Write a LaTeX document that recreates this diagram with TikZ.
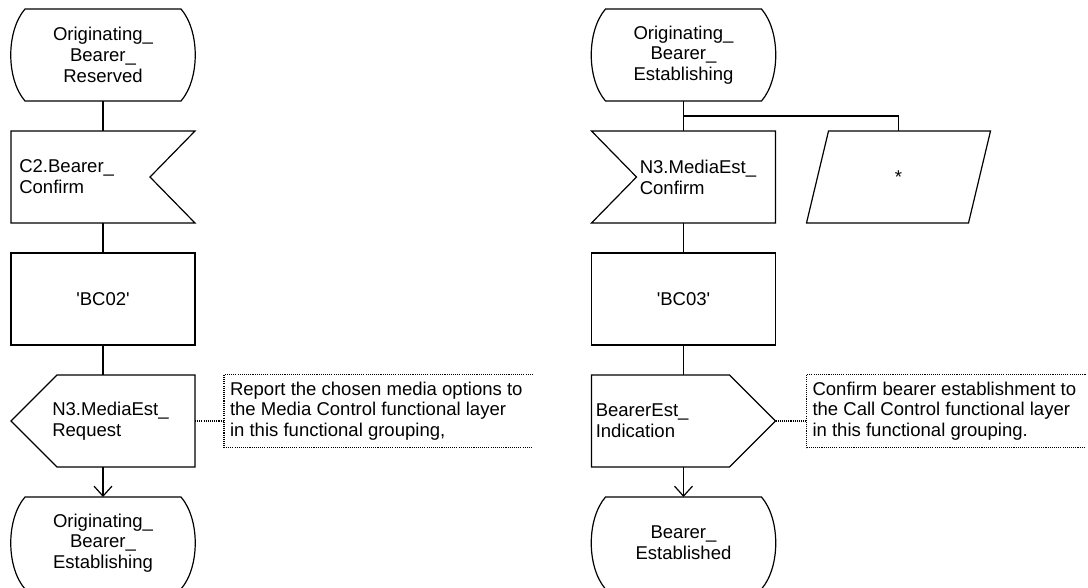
\documentclass[tikz,border=0pt]{standalone}
\usepackage{fontspec}
\setmainfont{Liberation Sans}
\usepackage{tikz}
\usetikzlibrary{arrows.meta,positioning,calc}
\definecolor{ink}{HTML}{000000}
\newcommand{\chartfont}{\fontsize{13.9}{15.6}\selectfont}
% outlines drawn round a named sdlbox node
\newcommand{\stateline}[1]{\draw[sdlline]
  ($(#1.north west)+(14,0)$) -- ($(#1.north east)+(-14,0)$)
  .. controls ($(#1.north east)+(5,22)$) and ($(#1.south east)+(5,-22)$) .. ($(#1.south east)+(-14,0)$)
  -- ($(#1.south west)+(14,0)$)
  .. controls ($(#1.south west)+(-5,-22)$) and ($(#1.north west)+(-5,22)$) .. cycle;}
\newcommand{\inrline}[1]{\draw[sdlline] (#1.north west) -- (#1.north east)
  -- ($(#1.east)+(-45,0)$) -- (#1.south east) -- (#1.south west) -- cycle;}
\newcommand{\inlline}[1]{\draw[sdlline] (#1.north west) -- (#1.north east)
  -- (#1.south east) -- (#1.south west) -- ($(#1.west)+(45,0)$) -- cycle;}
\newcommand{\outlline}[1]{\draw[sdlline] ($(#1.north west)+(46,0)$) -- (#1.north east)
  -- (#1.south east) -- ($(#1.south west)+(46,0)$) -- (#1.west) -- cycle;}
\newcommand{\outrline}[1]{\draw[sdlline] (#1.north west) -- ($(#1.north east)+(-46,0)$)
  -- (#1.east) -- ($(#1.south east)+(-46,0)$) -- (#1.south west) -- cycle;}
\newcommand{\saveline}[1]{\draw[sdlline] ($(#1.north west)+(22,0)$) -- (#1.north east)
  -- ($(#1.south east)+(-22,0)$) -- (#1.south west) -- cycle;}
\newcommand{\noteline}[2]{\draw[note] ($(#1.north west)+(#2,0)$) -- (#1.north west)
  -- (#1.south west) -- ($(#1.south west)+(#2,0)$);}

\begin{document}
\begin{tikzpicture}[
  x=0.75pt, y=-0.75pt,
  every node/.style={font=\chartfont, text=ink},
  node distance=22.5pt,
  sdlbox/.style={rectangle, minimum width=138pt, minimum height=69pt, inner sep=0pt, outer sep=0pt, align=center},
  sdlline/.style={draw=ink, line width=0.9pt},
  sdltask/.style={sdlbox, draw=ink, line width=0.9pt},
  flow/.style={draw=ink, line width=0.9pt},
  into/.style={flow, -{Straight Barb[length=7.5pt,width=13.5pt]}},
  note/.style={draw=ink, line width=0.8pt, dash pattern=on 0.8pt off 0.8pt},
  txt/.style={inner sep=0pt, align=left},
  sdlnote/.style={align=left, inner xsep=4.5pt, inner ysep=0pt, outer sep=0pt, minimum height=54.75pt}
]
\useasboundingbox (0,0) rectangle (1088,587);

% originating side, bearer reserved
\node[sdlbox] (orres) at (103,55) {Originating\_\\Bearer\_\\Reserved};
\node[sdlbox, below=of orres] (bconf) {};
\node[txt, right=6pt of bconf.west] (bconft) {C2.Bearer\_\\Confirm};
\node[sdltask, below=of bconf] (bc02) {\textquotesingle BC02\textquotesingle};
\node[sdlbox, below=of bc02] (mreq) {};
\node[txt, right=30.75pt of mreq.west] (mreqt) {N3.MediaEst\_\\Request};
\node[sdlbox, below=of mreq] (orest) {Originating\_\\Bearer\_\\Establishing};
\node[sdlnote, right=21.75pt of mreq, yshift=7.5pt] (mnote)
  {Report the chosen media options to\\the Media Control functional layer\\in this functional grouping,};
\stateline{orres}
\inrline{bconf}
\outlline{mreq}
\stateline{orest}
\noteline{mnote}{309}

\draw[flow] (orres) -- (bconf);
\draw[flow] (bconf) -- (bc02);
\draw[flow] (bc02) -- (mreq);
\draw[into] (mreq) -- (orest);
\draw[note] (mreq.east) -- (mnote.west |- mreq.east);

% originating side, bearer establishing
\node[sdlbox] (orest2) at (683.5,55) {Originating\_\\Bearer\_\\Establishing};
\node[sdlbox, below=of orest2] (mconf) {};
\node[txt, right=36pt of mconf.west] (mconft) {N3.MediaEst\_\\Confirm};
\node[sdlbox, right=23.25pt of mconf] (keep) {*};
\node[sdltask, below=of mconf] (bc03) {\textquotesingle BC03\textquotesingle};
\node[sdlbox, below=of bc03] (bind) {};
\node[txt, right=3pt of bind.west] (bindt) {BearerEst\_\\Indication};
\node[sdlbox, below=of bind] (best) {Bearer\_\\Established};
\node[sdlnote, right=23.25pt of bind, yshift=7.5pt] (bnote)
  {Confirm bearer establishment to\\the Call Control functional layer\\in this functional grouping.};
\stateline{orest2}
\inlline{mconf}
\saveline{keep}
\outrline{bind}
\stateline{best}
\noteline{bnote}{279}

\coordinate (fork) at ($(orest2.south)!0.5!(mconf.north)$);
\draw[flow] (orest2) -- (mconf);
\draw[flow] (fork) -| (keep.north);
\draw[flow] (mconf) -- (bc03);
\draw[flow] (bc03) -- (bind);
\draw[into] (bind) -- (best);
\draw[note] (bind.east) -- (bnote.west |- bind.east);
\end{tikzpicture}
\end{document}
